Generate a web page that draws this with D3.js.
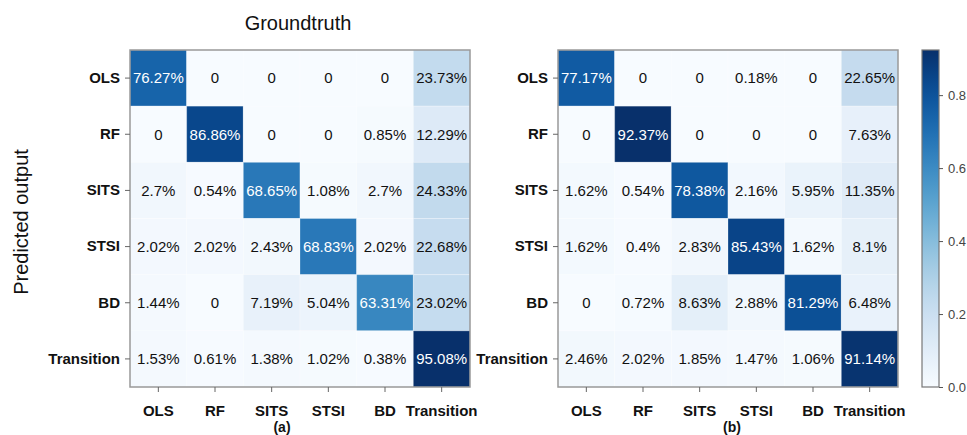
<!DOCTYPE html>
<html>
<head>
<meta charset="utf-8">
<script src="https://cdn.jsdelivr.net/npm/d3@7"></script>
<style>
  body { margin: 0; background: #fff; }
  svg text { font-family: "Liberation Sans", Arial, sans-serif; }
</style>
</head>
<body>
<svg class="chartSvg" width="967" height="435"></svg>
<script>
// class names, rows = predicted, columns = groundtruth
var classes = ["OLS", "RF", "SITS", "STSI", "BD", "Transition"];

// percentages, matrix (a)
var matrixA = [
  [76.27, 0, 0, 0, 0, 23.73],
  [0, 86.86, 0, 0, 0.85, 12.29],
  [2.7, 0.54, 68.65, 1.08, 2.7, 24.33],
  [2.02, 2.02, 2.43, 68.83, 2.02, 22.68],
  [1.44, 0, 7.19, 5.04, 63.31, 23.02],
  [1.53, 0.61, 1.38, 1.02, 0.38, 95.08]
];

// percentages, matrix (b)
var matrixB = [
  [77.17, 0, 0, 0.18, 0, 22.65],
  [0, 92.37, 0, 0, 0, 7.63],
  [1.62, 0.54, 78.38, 2.16, 5.95, 11.35],
  [1.62, 0.4, 2.83, 85.43, 1.62, 8.1],
  [0, 0.72, 8.63, 2.88, 81.29, 6.48],
  [2.46, 2.02, 1.85, 1.47, 1.06, 91.14]
];

var colorbarTicks = [0, 0.2, 0.4, 0.6, 0.8];

var svg = d3.select(".chartSvg");
var matW = 340, matH = 337, matTop = 50;

var x = d3.scaleBand().domain(classes).range([0, matW]);
var y = d3.scaleBand().domain(classes).range([0, matH]);

function drawMatrix(data, left, label, labelX) {
  var vmax = d3.max(data, function(r) { return d3.max(r); }) / 100;
  var color = d3.scaleSequential(d3.interpolateBlues).domain([0, vmax]);

  var g = svg.append("g")
      .attr("transform", "translate(" + left + "," + matTop + ")");

  var cells = [];
  data.forEach(function(row, i) {
    row.forEach(function(v, j) {
      cells.push({ row: classes[i], col: classes[j], v: v });
    });
  });

  g.selectAll(".cell")
      .data(cells)
      .enter().append("rect")
      .attr("class", "cell")
      .attr("x", function(d) { return x(d.col); })
      .attr("y", function(d) { return y(d.row); })
      .attr("width", x.bandwidth())
      .attr("height", y.bandwidth())
      .attr("fill", function(d) { return color(d.v / 100); })
      .attr("stroke", "#fff")
      .attr("stroke-opacity", 0.25)
      .attr("stroke-width", 1);

  g.selectAll(".val")
      .data(cells)
      .enter().append("text")
      .attr("class", "val")
      .attr("x", function(d) { return x(d.col) + x.bandwidth() / 2; })
      .attr("y", function(d) { return y(d.row) + y.bandwidth() / 2; })
      .attr("dy", "0.36em")
      .attr("text-anchor", "middle")
      .style("font-size", "15px")
      .attr("fill", function(d) { return d.v / 100 > vmax * 0.5 ? "#fff" : "#111"; })
      .text(function(d) { return d.v === 0 ? "0" : d.v + "%"; });

  // frame
  g.append("rect")
      .attr("width", matW).attr("height", matH)
      .attr("fill", "none")
      .attr("stroke", "#999")
      .attr("stroke-width", 1.5);

  var yAxis = g.append("g").call(d3.axisLeft(y).tickSize(5).tickPadding(5));
  var xAxis = g.append("g")
      .attr("transform", "translate(0," + matH + ")")
      .call(d3.axisBottom(x).tickSize(5).tickPadding(13));
  [yAxis, xAxis].forEach(function(a) {
    a.select(".domain").remove();
    a.selectAll(".tick line").attr("stroke", "#666");
    a.selectAll("text")
      .attr("fill", "#111")
      .style("font-size", "15px")
      .style("font-weight", "bold");
  });

  g.append("text")
      .attr("x", labelX)
      .attr("y", matH + 45)
      .attr("text-anchor", "middle")
      .style("font-size", "14px")
      .style("font-weight", "bold")
      .attr("fill", "#111")
      .text(label);
}

drawMatrix(matrixA, 130, "(a)", 152);
drawMatrix(matrixB, 558, "(b)", 174);

// titles
svg.append("text")
    .attr("x", 298).attr("y", 30)
    .attr("text-anchor", "middle")
    .style("font-size", "20px")
    .attr("fill", "#111")
    .text("Groundtruth");

svg.append("text")
    .attr("transform", "translate(28," + 222 + ") rotate(-90)")
    .attr("text-anchor", "middle")
    .style("font-size", "20px")
    .attr("fill", "#111")
    .text("Predicted output");

// colorbar
var cbMax = d3.max(matrixB, function(r) { return d3.max(r); }) / 100;
var cbX = 922, cbW = 17;
var cbScale = d3.scaleLinear().domain([0, cbMax]).range([matTop + matH, matTop]);

var grad = svg.append("defs").append("linearGradient")
    .attr("id", "cbGrad")
    .attr("x1", 0).attr("y1", 1).attr("x2", 0).attr("y2", 0);
d3.range(0, 1.001, 0.05).forEach(function(t) {
  grad.append("stop")
      .attr("offset", t)
      .attr("stop-color", d3.interpolateBlues(t));
});

svg.append("rect")
    .attr("x", cbX).attr("y", matTop)
    .attr("width", cbW).attr("height", matH)
    .attr("fill", "url(#cbGrad)")
    .attr("stroke", "#777")
    .attr("stroke-width", 1.2);

var cbAxis = svg.append("g")
    .attr("transform", "translate(" + (cbX + cbW) + ",0)")
    .call(d3.axisRight(cbScale).tickValues(colorbarTicks).tickFormat(d3.format(".1f")).tickSize(4).tickPadding(5));
cbAxis.select(".domain").remove();
cbAxis.selectAll(".tick line").attr("stroke", "#555");
cbAxis.selectAll("text").attr("fill", "#444").style("font-size", "13px");
</script>
</body>
</html>
